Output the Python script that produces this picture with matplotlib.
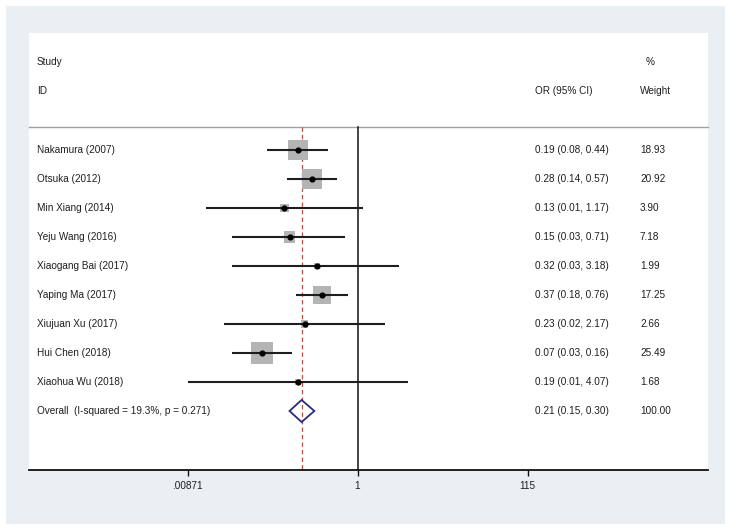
import numpy as np
import matplotlib
matplotlib.use("Agg")
import matplotlib.pyplot as plt
from matplotlib.patches import Rectangle, Polygon
from matplotlib.transforms import blended_transform_factory

# ---- data ----
studies = ["Nakamura (2007)", "Otsuka (2012)", "Min Xiang (2014)", "Yeju Wang (2016)",
           "Xiaogang Bai (2017)", "Yaping Ma (2017)", "Xiujuan Xu (2017)",
           "Hui Chen (2018)", "Xiaohua Wu (2018)"]
odds_ratio = [0.19, 0.28, 0.13, 0.15, 0.32, 0.37, 0.23, 0.07, 0.19]
ci_low = [0.08, 0.14, 0.0145, 0.03, 0.03, 0.18, 0.024, 0.03, 0.00871]
ci_high = [0.44, 0.57, 1.17, 0.71, 3.18, 0.76, 2.17, 0.16, 4.07]
weights = [18.93, 20.92, 3.90, 7.18, 1.99, 17.25, 2.66, 25.49, 1.68]
overall_label = "Overall  (I-squared = 19.3%, p = 0.271)"
overall_or = 0.21
overall_low = 0.15
overall_high = 0.30
overall_weight = 100.00
tick_values = [0.00871, 1, 115]
tick_labels = [".00871", "1", "115"]

plt.rcParams['font.family'] = ['Liberation Sans', 'DejaVu Sans']
FS = 7.2
TXT = "#1e1e1e"

W, H = 733, 531
fig = plt.figure(figsize=(W / 100, H / 100), dpi=100)
fig.patch.set_facecolor("white")
# outer light background
fig.patches.append(Rectangle((6 / W, 1 - 524 / H), (725 - 6) / W, (524 - 6) / H,
                             transform=fig.transFigure, facecolor="#e9eff2",
                             edgecolor="none", zorder=0))

# panel in pixels
px_l, px_r, px_t, px_b = 29, 708, 33, 470
ax = fig.add_axes([px_l / W, 1 - px_b / H, (px_r - px_l) / W, (px_b - px_t) / H])
ax.set_facecolor("white")
ax.set_zorder(1)

# x scale: ln units -> pixels
x_one = 357.5
ppl = (527.7 - 187.7) / (np.log(115) - np.log(0.00871))
ax.set_xscale("log")
ax.set_xlim(np.exp((px_l - x_one) / ppl), np.exp((px_r - x_one) / ppl))

# y: rows (row 0 at pixel 150, 29 px per row)
row0, rowh = 150, 29
def ypix(p):
    return (p - row0) / rowh
ax.set_ylim(ypix(px_b), ypix(px_t))

for s in ["top", "left", "right"]:
    ax.spines[s].set_visible(False)
ax.spines["bottom"].set_linewidth(1.3)
ax.spines["bottom"].set_color("#111111")
ax.set_yticks([])
ax.set_xticks(tick_values)
ax.set_xticklabels(tick_labels)
ax.minorticks_off()
ax.tick_params(axis="x", length=4, width=1, color="#111111", labelsize=FS,
               labelcolor=TXT, pad=4)

sep = ypix(127)
ybot = ypix(px_b)
# separator line
ax.plot([0, 1], [sep, sep], transform=blended_transform_factory(ax.transAxes, ax.transData),
        color="#a0a0a0", lw=1.0, zorder=2, clip_on=False)
# null line
ax.plot([1, 1], [sep, ybot], color="#111111", lw=1.1, zorder=2)
# overall dashed line
ax.plot([overall_or, overall_or], [sep, ybot], color="#b8504a", lw=0.9,
        ls=(0, (3.5, 2.5)), zorder=2)

n = len(studies)
ys = np.arange(n)
# boxes
side_pt = 4.4 * np.sqrt(np.array(weights)) * 0.72
ax.scatter(odds_ratio, ys, marker="s", s=side_pt ** 2, color="#b4b4b4",
           edgecolors="none", zorder=3)
# CI lines
for i in range(n):
    ax.plot([ci_low[i], ci_high[i]], [ys[i], ys[i]], color="#1e1e1e", lw=1.5,
            zorder=4, solid_capstyle="butt")
ax.scatter(odds_ratio, ys, marker="o", s=12, color="#000000", zorder=5)

# overall diamond
yo = n
dh = 0.38
ax.add_patch(Polygon([(overall_low, yo), (overall_or, yo - dh), (overall_high, yo),
                      (overall_or, yo + dh)], closed=True, fill=False,
                     edgecolor="#2b2b7e", lw=1.3, zorder=5))

# text columns
tr = blended_transform_factory(ax.transAxes, ax.transData)
def fx(p):
    return (p - px_l) / (px_r - px_l)

kw = dict(transform=tr, fontsize=FS, color=TXT, va="center", ha="left", zorder=6)
ax.text(fx(37), ypix(62), "Study", **kw)
ax.text(fx(37), ypix(91), "ID", **kw)
ax.text(fx(535), ypix(91), "OR (95% CI)", **kw)
ax.text(fx(646), ypix(62), "%", **kw)
ax.text(fx(640), ypix(91), "Weight", **kw)

for i in range(n):
    ax.text(fx(37), ys[i], studies[i], **kw)
    ax.text(fx(535), ys[i], f"{odds_ratio[i]:.2f} ({ci_low[i]:.2f}, {ci_high[i]:.2f})", **kw)
    ax.text(fx(640), ys[i], f"{weights[i]:.2f}", **kw)
ax.text(fx(37), yo, overall_label, **kw)
ax.text(fx(535), yo, f"{overall_or:.2f} ({overall_low:.2f}, {overall_high:.2f})", **kw)
ax.text(fx(640), yo, f"{overall_weight:.2f}", **kw)

fig.savefig("out.png", dpi=100, facecolor=fig.get_facecolor())
